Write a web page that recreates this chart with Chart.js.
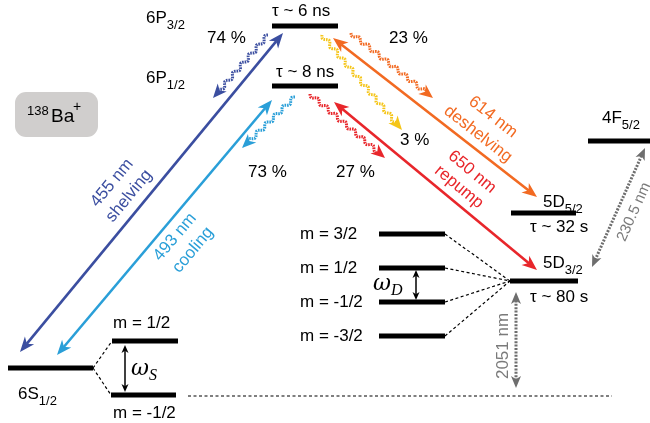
<!DOCTYPE html>
<html>
<head>
<meta charset="utf-8">
<script src="https://cdn.jsdelivr.net/npm/chart.js@4.4.0/dist/chart.umd.min.js"></script>
<style>
body { margin: 0; background: #fff; }
#wrap { width: 650px; height: 423px; }
</style>
</head>
<body>
<div id="wrap"><canvas id="levels"></canvas></div>
<script>
// energy levels (diagram units, y grows downward)
const levelNames = ['6P3/2', '6P1/2', '6S1/2', 'S m=+1/2', 'S m=-1/2', 'D m=+3/2', 'D m=+1/2', 'D m=-1/2', 'D m=-3/2', '5D3/2', '5D5/2', '4F5/2'];
const levelLeft  = [272, 272, 8, 112, 111, 379, 379, 379, 379, 510, 511, 588];
const levelRight = [338, 338, 93, 178, 176, 445, 445, 445, 445, 578, 576, 650];
const levelY     = [26, 86, 368, 341, 395, 234, 268, 302, 336, 281, 213, 141];

// dotted Zeeman connectors + ground reference line
const connX0 = [93, 93, 445, 445, 445, 445, 188];
const connY0 = [368, 368, 234, 268, 302, 336, 396];
const connX1 = [112, 111, 510, 510, 510, 510, 612];
const connY1 = [341, 395, 281, 281, 281, 281, 396];

// laser transitions (double headed)
const laserNames = ['455 nm', '493 nm', '614 nm', '650 nm'];
const laserX0 = [20, 57, 333, 334];
const laserY0 = [352, 355, 38, 102];
const laserX1 = [283, 272, 537, 537];
const laserY1 = [33, 100, 197, 270];
const laserColors = ['#3b4ea0', '#2a9fd8', '#f26a22', '#e8262b'];

// spontaneous decays (wavy)
const decayPct = ['74 %', '73 %', '3 %', '23 %', '27 %'];
const decayX0 = [268, 295, 322, 351, 310];
const decayY0 = [35, 97, 35, 33, 94];
const decayX1 = [213, 242, 402, 433, 385];
const decayY1 = [98, 148, 130, 98, 158];
const decayColors = ['#3b4ea0', '#2a9fd8', '#f5c518', '#f26a22', '#e8262b'];

// grey dashed transitions
const greyNames = ['230.5 nm', '2051 nm'];
const greyX0 = [645, 516];
const greyY0 = [148, 292];
const greyX1 = [592, 516];
const greyY1 = [267, 388];

// text labels: main, subscript, x, y (baseline)
const labelMain = ['6P', '6P', 'τ ~ 6 ns', 'τ ~ 8 ns', '74 %', '23 %', '3 %', '73 %', '27 %', '4F', '5D', 'τ ~ 32 s', '5D', 'τ ~ 80 s',
  'm = 3/2', 'm = 1/2', 'm = -1/2', 'm = -3/2', 'm = 1/2', 'm = -1/2', '6S'];
const labelSub  = ['3/2', '1/2', '', '', '', '', '', '', '', '5/2', '5/2', '', '3/2', '', '', '', '', '', '', '', '1/2'];
const labelX    = [146, 146, 272, 276, 207, 389, 400, 248, 336, 602, 543, 530, 543, 530, 300, 300, 300, 300, 113, 113, 18];
const labelY    = [23, 83, 16, 77, 43, 43, 145, 177, 177, 123, 207, 232, 268, 302, 239, 273, 307, 341, 328, 418, 399];

// rotated transition labels: text, centre x, centre y, angle (deg)
const rotText  = ['455 nm', 'shelving', '493 nm', 'cooling', '614 nm', 'deshelving', '650 nm', 'repump', '230.5 nm', '2051 nm'];
const rotX     = [112, 129, 175, 193, 493, 478, 472, 459, 634, 503];
const rotY     = [183, 196, 237, 250, 117, 134, 172, 187, 212, 346];
const rotAngle = [-50.5, -50.5, -50, -50, 38, 38, 39.6, 39.6, -66, -90];
const rotSize  = [17, 17, 17, 17, 17, 17, 17, 17, 15, 17];
const rotColor = ['#3b4ea0', '#3b4ea0', '#2a9fd8', '#2a9fd8', '#f26a22', '#f26a22', '#e8262b', '#e8262b', '#7a7a7a', '#7a7a7a'];

const FONT = '"Liberation Sans", Arial, sans-serif';

function toPx(chart, x, y) {
    return [chart.scales.x.getPixelForValue(x), chart.scales.y.getPixelForValue(y)];
}

function head(ctx, x, y, ang, len, half) {
    const c = Math.cos(ang), s = Math.sin(ang);
    ctx.beginPath();
    ctx.moveTo(x, y);
    ctx.lineTo(x - len * c + half * s, y - len * s - half * c);
    ctx.lineTo(x - len * 0.72 * c, y - len * 0.72 * s);
    ctx.lineTo(x - len * c - half * s, y - len * s + half * c);
    ctx.closePath();
    ctx.fill();
}

function arrow(ctx, a, b, color, width, len, half, dash, both) {
    const ang = Math.atan2(b[1] - a[1], b[0] - a[0]);
    const c = Math.cos(ang), s = Math.sin(ang);
    ctx.save();
    ctx.strokeStyle = color;
    ctx.fillStyle = color;
    ctx.lineWidth = width;
    ctx.setLineDash(dash);
    ctx.beginPath();
    const st = both ? len * 0.7 : 0;
    ctx.moveTo(a[0] + st * c, a[1] + st * s);
    ctx.lineTo(b[0] - len * 0.7 * c, b[1] - len * 0.7 * s);
    ctx.stroke();
    ctx.setLineDash([]);
    head(ctx, b[0], b[1], ang, len, half);
    if (both) head(ctx, a[0], a[1], ang + Math.PI, len, half);
    ctx.restore();
}

function wavy(ctx, a, b, color) {
    const ang = Math.atan2(b[1] - a[1], b[0] - a[0]);
    const c = Math.cos(ang), s = Math.sin(ang);
    const L = Math.hypot(b[0] - a[0], b[1] - a[1]) - 9;
    ctx.save();
    ctx.strokeStyle = color;
    ctx.fillStyle = color;
    ctx.lineWidth = 3;
    ctx.setLineDash([1.6, 0.9]);
    ctx.beginPath();
    for (let t = 0; t <= L; t += 0.5) {
        const w = 2 * Math.sin(2 * Math.PI * t / 12);
        const x = a[0] + t * c - w * s, y = a[1] + t * s + w * c;
        if (t === 0) ctx.moveTo(x, y); else ctx.lineTo(x, y);
    }
    ctx.stroke();
    ctx.setLineDash([]);
    head(ctx, b[0], b[1], ang, 14, 6);
    ctx.restore();
}

const diagramPlugin = {
    id: 'diagram',
    beforeDatasetsDraw(chart) {
        const ctx = chart.ctx;
        const p = toPx(chart, 15, 92), q = toPx(chart, 98, 137);
        ctx.save();
        ctx.fillStyle = '#d0cecd';
        ctx.beginPath();
        ctx.roundRect(p[0], p[1], q[0] - p[0], q[1] - p[1], 11);
        ctx.fill();
        ctx.fillStyle = '#000';
        ctx.font = '13px ' + FONT;
        let t = toPx(chart, 27, 115);
        ctx.fillText('138', t[0], t[1]);
        ctx.font = '19px ' + FONT;
        t = toPx(chart, 51, 122);
        ctx.fillText('Ba', t[0], t[1]);
        ctx.font = '14px ' + FONT;
        t = toPx(chart, 73, 111);
        ctx.fillText('+', t[0], t[1]);
        ctx.restore();
    },
    afterDatasetsDraw(chart) {
        const ctx = chart.ctx;
        for (let i = 0; i < laserNames.length; i++) {
            arrow(ctx, toPx(chart, laserX0[i], laserY0[i]), toPx(chart, laserX1[i], laserY1[i]),
                laserColors[i], 2.6, 15, 6, [], true);
        }
        for (let i = 0; i < decayPct.length; i++) {
            wavy(ctx, toPx(chart, decayX0[i], decayY0[i]), toPx(chart, decayX1[i], decayY1[i]), decayColors[i]);
        }
        for (let i = 0; i < greyNames.length; i++) {
            arrow(ctx, toPx(chart, greyX0[i], greyY0[i]), toPx(chart, greyX1[i], greyY1[i]),
                '#6e6e6e', 3, 12, 5, [2, 1.4], true);
        }
        // Zeeman splitting arrows
        arrow(ctx, toPx(chart, 125, 345), toPx(chart, 125, 392), '#000', 1.5, 8, 3.5, [], true);
        arrow(ctx, toPx(chart, 416, 270), toPx(chart, 416, 300), '#000', 1.5, 8, 3.5, [], true);

        ctx.save();
        ctx.fillStyle = '#000';
        ctx.textBaseline = 'alphabetic';
        for (let i = 0; i < labelMain.length; i++) {
            const p = toPx(chart, labelX[i], labelY[i]);
            ctx.font = '17px ' + FONT;
            ctx.fillText(labelMain[i], p[0], p[1]);
            if (labelSub[i]) {
                const w = ctx.measureText(labelMain[i]).width;
                ctx.font = '13px ' + FONT;
                ctx.fillText(labelSub[i], p[0] + w, p[1] + 6);
            }
        }
        // omega labels
        const omegas = [['S', 131, 375], ['D', 373, 290]];
        omegas.forEach(function (o) {
            const p = toPx(chart, o[1], o[2]);
            ctx.font = 'italic 22px "DejaVu Serif", serif';
            ctx.fillText('ω', p[0], p[1]);
            const w = ctx.measureText('ω').width;
            ctx.font = 'italic 16px "Liberation Serif", serif';
            ctx.fillText(o[0], p[0] + w, p[1] + 5);
        });
        ctx.textAlign = 'center';
        ctx.textBaseline = 'middle';
        for (let i = 0; i < rotText.length; i++) {
            const p = toPx(chart, rotX[i], rotY[i]);
            ctx.save();
            ctx.translate(p[0], p[1]);
            ctx.rotate(rotAngle[i] * Math.PI / 180);
            ctx.font = rotSize[i] + 'px ' + FONT;
            ctx.fillStyle = rotColor[i];
            ctx.fillText(rotText[i], 0, 0);
            ctx.restore();
        }
        ctx.restore();
    }
};

const datasets = [];
for (let i = 0; i < levelNames.length; i++) {
    datasets.push({
        label: levelNames[i],
        data: [{x: levelLeft[i], y: levelY[i]}, {x: levelRight[i], y: levelY[i]}],
        showLine: true,
        borderColor: '#000',
        borderWidth: 5,
        borderCapStyle: 'butt',
        pointRadius: 0
    });
}
for (let i = 0; i < connX0.length; i++) {
    datasets.push({
        label: 'conn' + i,
        data: [{x: connX0[i], y: connY0[i]}, {x: connX1[i], y: connY1[i]}],
        showLine: true,
        borderColor: '#000',
        borderWidth: 1.2,
        borderDash: [3, 2.5],
        pointRadius: 0
    });
}

new Chart(document.getElementById('levels'), {
    type: 'scatter',
    data: { datasets: datasets },
    options: {
        responsive: true,
        maintainAspectRatio: false,
        animation: false,
        events: [],
        layout: { padding: 0 },
        plugins: { legend: { display: false }, tooltip: { enabled: false } },
        scales: {
            x: { type: 'linear', min: 0, max: 650, display: false },
            y: { type: 'linear', min: 0, max: 423, reverse: true, display: false }
        }
    },
    plugins: [diagramPlugin]
});
</script>
</body>
</html>
